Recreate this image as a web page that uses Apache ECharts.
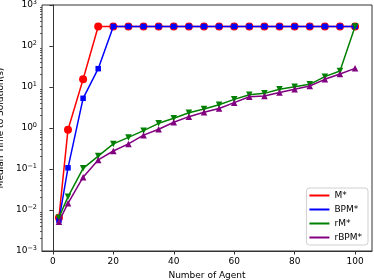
<!DOCTYPE html>
<html>
<head>
<meta charset="utf-8">
<script src="https://cdn.jsdelivr.net/npm/echarts@6/dist/echarts.min.js"></script>
<style>html,body{margin:0;padding:0;background:#fff;}#c{width:374px;height:280px;}</style>
</head>
<body>
<div id="c"></div>
<script>
var agents = [2,5,10,15,20,25,30,35,40,45,50,55,60,65,70,75,80,85,90,95,100];
var mStar   = [0.0065,0.91,15.4,300,300,300,300,300,300,300,300,300,300,300,300,300,300,300,300,300,300];
var bpmStar = [0.0056,0.107,5.3,28,300,300,300,300,300,300,300,300,300,300,300,300,300,300,300,300,300];
var rmStar  = [0.0065,0.021,0.104,0.207,0.41,0.59,0.86,1.3,1.73,2.36,2.9,3.7,5.0,6.5,7.0,8.8,10.2,11.6,17.9,24.5,300];
var rbpmStar= [0.0052,0.0146,0.063,0.166,0.275,0.41,0.67,0.93,1.38,1.89,2.41,3.0,4.15,5.8,6.0,7.3,8.8,10.6,15.4,20.8,28.5];
var xTicks = [0,20,40,60,80,100];
var yTicks = [0.001,0.01,0.1,1,10,100,1000];
var yMinor = [];
for (var d = -3; d < 3; d++) { for (var k = 2; k <= 9; k++) { yMinor.push(k * Math.pow(10, d)); } }

function pairs(ys){ return agents.map(function(x,i){ return [x, ys[i]]; }); }
var FONT = 'DejaVu Sans';
var chart = echarts.init(document.getElementById('c'), null, {renderer:'canvas'});
chart.setOption({
  animation: false,
  backgroundColor: '#fff',
  textStyle: {fontFamily: FONT},
  grid: {left: 42, right: 2, top: 5, bottom: 29, containLabel: false, outerBoundsMode: 'none',
         show: true, borderColor: '#333', borderWidth: 1, backgroundColor: 'transparent'},
  legend: {
    orient: 'vertical', right: 6, bottom: 35,
    backgroundColor: '#fff', borderColor: '#d0d0d0', borderWidth: 1, borderRadius: 3,
    padding: [2, 6, 2, 3], itemGap: 3, itemWidth: 20, itemHeight: 2,
    textStyle: {fontFamily: FONT, fontSize: 9, color: '#000', lineHeight: 11},
    data: [
      {name:'M*', icon:'rect'}, {name:'BPM*', icon:'rect'}, {name:'rM*', icon:'rect'}, {name:'rBPM*', icon:'rect'}
    ]
  },
  xAxis: {
    type: 'value', min: -3.6, max: 105.6,
    name: 'Number of Agent', nameLocation: 'middle', nameGap: 18,
    nameTextStyle: {fontFamily: FONT, fontSize: 9, color: '#000'},
    axisLine: {show: true, lineStyle: {color: '#333', width: 1}},
    axisTick: {show: true, length: 3.5, lineStyle: {color: '#333'}, customValues: xTicks},
    axisLabel: {show: true, fontFamily: FONT, fontSize: 9, color: '#000', margin: 6, customValues: xTicks},
    splitLine: {show: false}
  },
  yAxis: [{
    type: 'log', logBase: 10, min: 0.001, max: 1000,
    name: 'Median Time to Solution(s)', nameLocation: 'middle', nameGap: 32,
    nameTextStyle: {fontFamily: FONT, fontSize: 9, color: '#000'},
    axisLine: {show: true, lineStyle: {color: '#333', width: 1}},
    axisTick: {show: true, length: 3.5, lineStyle: {color: '#333'}, customValues: yTicks},
    axisLabel: {
      show: true, margin: 5, customValues: yTicks, fontFamily: FONT, fontSize: 9, color: '#000',
      formatter: function(v){ var e = Math.round(Math.log(v)/Math.LN10); return '10{s|' + (e < 0 ? '\u2212' + (-e) : e) + '}'; },
      rich: {s: {fontFamily: FONT, fontSize: 6.5, color: '#000', verticalAlign: 'top', padding: [0,0,5,0]}}
    },
    splitLine: {show: false}
  }, {
    type: 'log', logBase: 10, min: 0.001, max: 1000, position: 'left',
    axisLine: {show: false},
    axisTick: {show: true, length: 2, lineStyle: {color: '#333', width: 0.8}, customValues: yMinor},
    axisLabel: {show: false},
    splitLine: {show: false}
  }],
  series: [
    {name:'M*', type:'line', data: pairs(mStar), symbol:'circle', symbolSize: 8,
     lineStyle:{color:'#ff0000', width:1.5}, itemStyle:{color:'#ff0000'}, color:'#ff0000', z: 2},
    {name:'BPM*', type:'line', data: pairs(bpmStar), symbol:'rect', symbolSize: 5.5,
     lineStyle:{color:'#0000ff', width:1.5}, itemStyle:{color:'#0000ff'}, color:'#0000ff', z: 3},
    {name:'rM*', type:'line', data: pairs(rmStar), symbol:'triangle', symbolRotate: 180, symbolSize: 6.5,
     lineStyle:{color:'#008000', width:1.5}, itemStyle:{color:'#008000'}, color:'#008000', z: 4},
    {name:'rBPM*', type:'line', data: pairs(rbpmStar), symbol:'triangle', symbolSize: 6.5,
     lineStyle:{color:'#800080', width:1.5}, itemStyle:{color:'#800080'}, color:'#800080', z: 5}
  ]
});
</script>
</body>
</html>
